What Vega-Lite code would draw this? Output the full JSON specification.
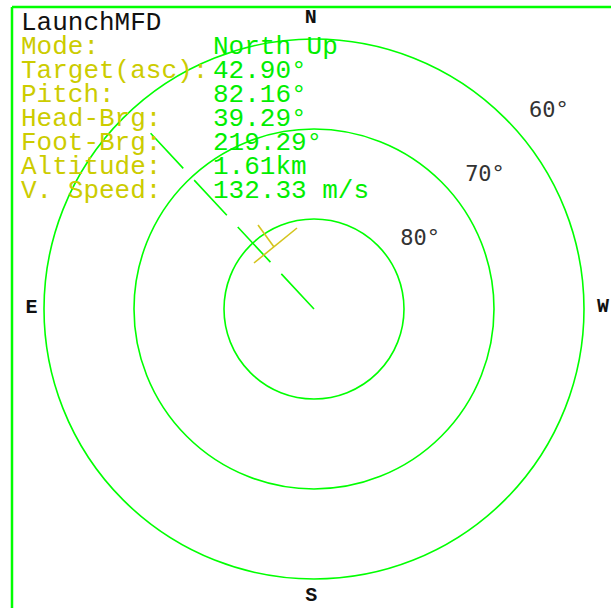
{
  "$schema": "https://vega.github.io/schema/vega-lite/v6.json",
  "width": 611,
  "height": 608,
  "autosize": {"type": "none"},
  "padding": 0,
  "background": "white",
  "config": {"view": {"stroke": null}},
  "datasets": {
    "frame": [
      {"x": -33.556, "y": 33.556, "x2": 34, "y2": 33.556},
      {"x": -33.556, "y": 33.556, "x2": -33.556, "y2": -34}
    ],
    "rings": [
      {"zen": 10, "label": "80°", "lx": 11.8, "ly": 7.9},
      {"zen": 20, "label": "70°", "lx": 19.0, "ly": 15.0},
      {"zen": 30, "label": "60°", "lx": 26.1, "ly": 22.1}
    ],
    "compass": [
      {"dir": "N", "x": -0.35, "y": 32.4},
      {"dir": "S", "x": -0.3, "y": -31.8},
      {"dir": "E", "x": -31.4, "y": 0.2},
      {"dir": "W", "x": 32.1, "y": 0.3}
    ],
    "target": [
      {"x": 0, "y": 0, "x2": -18.52, "y2": 19.92}
    ],
    "marker": [
      {"part": "bar", "x": -6.667, "y": 5.111, "x2": -1.889, "y2": 9.0},
      {"part": "stem", "x": -6.222, "y": 9.333, "x2": -4.444, "y2": 6.889}
    ],
    "info": [
      {"line": 1, "label": "Mode:", "value": "North Up"},
      {"line": 2, "label": "Target(asc):", "value": "42.90°"},
      {"line": 3, "label": "Pitch:", "value": "82.16°"},
      {"line": 4, "label": "Head-Brg:", "value": "39.29°"},
      {"line": 5, "label": "Foot-Brg:", "value": "219.29°"},
      {"line": 6, "label": "Altitude:", "value": "1.61km"},
      {"line": 7, "label": "V. Speed:", "value": "132.33 m/s"}
    ],
    "title": [{"line": 0, "text": "LaunchMFD"}]
  },
  "resolve": {"scale": {"x": "independent", "y": "independent", "size": "independent"}},
  "layer": [
    {
      "data": {"name": "frame"},
      "mark": {"type": "rule", "color": "#00ff00", "strokeWidth": 2.5},
      "encoding": {
        "x": {"field": "x", "type": "quantitative", "axis": null, "scale": {"domain": [-34.889, 33], "nice": false, "zero": false}},
        "y": {"field": "y", "type": "quantitative", "axis": null, "scale": {"domain": [-33.222, 34.333], "nice": false, "zero": false}},
        "x2": {"field": "x2"},
        "y2": {"field": "y2"}
      }
    },
    {
      "data": {"name": "rings"},
      "mark": {"type": "point", "shape": "circle", "filled": false, "stroke": "#00ff00", "strokeWidth": 1.6, "opacity": 1},
      "encoding": {
        "x": {"datum": 0, "type": "quantitative", "axis": null, "scale": {"domain": [-34.889, 33], "nice": false, "zero": false}},
        "y": {"datum": 0, "type": "quantitative", "axis": null, "scale": {"domain": [-33.222, 34.333], "nice": false, "zero": false}},
        "size": {"field": "zen", "type": "quantitative", "legend": null, "scale": {"type": "pow", "exponent": 2, "domain": [0, 30], "range": [0, 291600], "zero": true}}
      }
    },
    {
      "data": {"name": "rings"},
      "mark": {"type": "text", "font": "DejaVu Sans Mono", "fontSize": 22, "color": "#333333", "align": "center", "baseline": "middle"},
      "encoding": {
        "x": {"field": "lx", "type": "quantitative", "axis": null, "scale": {"domain": [-34.889, 33], "nice": false, "zero": false}},
        "y": {"field": "ly", "type": "quantitative", "axis": null, "scale": {"domain": [-33.222, 34.333], "nice": false, "zero": false}},
        "text": {"field": "label"}
      }
    },
    {
      "data": {"name": "compass"},
      "mark": {"type": "text", "font": "Liberation Mono", "fontWeight": "bold", "fontSize": 20, "color": "#111111", "align": "center", "baseline": "middle"},
      "encoding": {
        "x": {"field": "x", "type": "quantitative", "axis": null, "scale": {"domain": [-34.889, 33], "nice": false, "zero": false}},
        "y": {"field": "y", "type": "quantitative", "axis": null, "scale": {"domain": [-33.222, 34.333], "nice": false, "zero": false}},
        "text": {"field": "dir"}
      }
    },
    {
      "data": {"name": "target"},
      "mark": {"type": "rule", "color": "#00ff00", "strokeWidth": 1.6, "strokeDash": [48, 16]},
      "encoding": {
        "x": {"field": "x", "type": "quantitative", "axis": null, "scale": {"domain": [-34.889, 33], "nice": false, "zero": false}},
        "y": {"field": "y", "type": "quantitative", "axis": null, "scale": {"domain": [-33.222, 34.333], "nice": false, "zero": false}},
        "x2": {"field": "x2"},
        "y2": {"field": "y2"}
      }
    },
    {
      "data": {"name": "marker"},
      "mark": {"type": "rule", "color": "#d4c41c", "strokeWidth": 1.6},
      "encoding": {
        "x": {"field": "x", "type": "quantitative", "axis": null, "scale": {"domain": [-34.889, 33], "nice": false, "zero": false}},
        "y": {"field": "y", "type": "quantitative", "axis": null, "scale": {"domain": [-33.222, 34.333], "nice": false, "zero": false}},
        "x2": {"field": "x2"},
        "y2": {"field": "y2"}
      }
    },
    {
      "data": {"name": "info"},
      "mark": {"type": "text", "font": "Liberation Mono", "fontSize": 26, "color": "#cccc00", "align": "left", "baseline": "alphabetic"},
      "encoding": {
        "x": {"datum": 0, "type": "quantitative", "axis": null, "scale": {"domain": [-1.3125, 36.875], "nice": false, "zero": false}},
        "y": {"field": "line", "type": "quantitative", "axis": null, "scale": {"domain": [-1.25, 24.0833], "reverse": true, "nice": false, "zero": false}},
        "text": {"field": "label"}
      }
    },
    {
      "data": {"name": "info"},
      "mark": {"type": "text", "font": "Liberation Mono", "fontSize": 26, "color": "#00ee00", "align": "left", "baseline": "alphabetic"},
      "encoding": {
        "x": {"datum": 12, "type": "quantitative", "axis": null, "scale": {"domain": [-1.3125, 36.875], "nice": false, "zero": false}},
        "y": {"field": "line", "type": "quantitative", "axis": null, "scale": {"domain": [-1.25, 24.0833], "reverse": true, "nice": false, "zero": false}},
        "text": {"field": "value"}
      }
    },
    {
      "data": {"name": "title"},
      "mark": {"type": "text", "font": "Liberation Mono", "fontSize": 26, "color": "#111111", "align": "left", "baseline": "alphabetic"},
      "encoding": {
        "x": {"datum": 0, "type": "quantitative", "axis": null, "scale": {"domain": [-1.3125, 36.875], "nice": false, "zero": false}},
        "y": {"field": "line", "type": "quantitative", "axis": null, "scale": {"domain": [-1.25, 24.0833], "reverse": true, "nice": false, "zero": false}},
        "text": {"field": "text"}
      }
    }
  ]
}
